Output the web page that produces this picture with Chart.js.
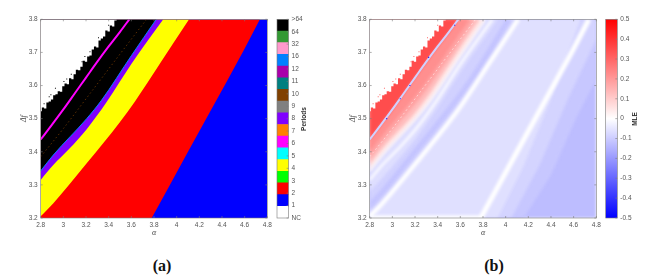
<!DOCTYPE html>
<html lang="en">

<head>
    <meta charset="UTF-8">
    <title>Periods and MLE</title>
    <script src="https://cdn.jsdelivr.net/npm/chart.js"></script>
    <style>
        html, body { margin: 0; padding: 0; background: #fff; overflow: hidden; }
        body { width: 647px; height: 279px; position: relative; font-family: "Liberation Sans", sans-serif; }
        canvas { position: absolute; top: 0; filter: blur(0.4px); }
        .caption { position: absolute; top: 257px; width: 60px; text-align: center; font: bold 16px "Liberation Serif", serif; color: #111; }
        .barTitle { position: absolute; top: 115px; width: 40px; height: 8px; line-height: 8px; text-align: center; font: bold 6.5px "Liberation Sans", sans-serif; color: #333; transform: rotate(-90deg); }
    </style>
</head>

<body>
    <canvas id="mapPeriods" width="320" height="245" style="left:0"></canvas>
    <canvas id="barPeriods" width="50" height="245" style="left:270px"></canvas>
    <canvas id="mapMle" width="320" height="245" style="left:329px"></canvas>
    <canvas id="barMle" width="47" height="245" style="left:600px"></canvas>
    <div class="barTitle" style="left:284px">Periods</div>
    <div class="barTitle" style="left:615px">MLE</div>
    <div class="caption" style="left:132px">(a)</div>
    <div class="caption" style="left:464px">(b)</div>

    <script>
        // axis ticks
        const alphaTicks = [2.8, 3, 3.2, 3.4, 3.6, 3.8, 4, 4.2, 4.4, 4.6, 4.8];
        const deltaTicks = [3.2, 3.3, 3.4, 3.5, 3.6, 3.7, 3.8];
        const periodLabels = ['NC', '1', '2', '3', '4', '5', '6', '7', '8', '9', '10', '11', '12', '16', '32', '64', '>64'];
        const periodColors = ['#ffffff', '#0000ff', '#ff0000', '#00ff00', '#ffff00', '#00ffff', '#ff00ff', '#ff8000', '#8000ff', '#808080', '#804000', '#008080', '#aa00aa', '#0080ff', '#ff99cc', '#339933', '#000000'];
        const mleTicks = [-0.5, -0.4, -0.3, -0.2, -0.1, 0, 0.1, 0.2, 0.3, 0.4, 0.5];
        const mleRange = [-0.5, 0.5];

        // limites entre as regioes
        const floorAlpha = [2.8, 4.8];
        const floorDelta = [3.2, 3.2];
        const edge12Alpha = [2.8, 3.78, 3.94, 4.10, 4.28, 4.435, 4.59, 4.735];
        const edge12Delta = [3.2, 3.2, 3.3, 3.4, 3.512, 3.608, 3.705, 3.8];
        const edge24Alpha = [2.8, 2.91, 3.206, 3.5, 3.632, 3.85, 4.11];
        const edge24Delta = [3.205, 3.244, 3.365, 3.49, 3.552, 3.665, 3.8];
        const edge48Alpha = [2.8, 2.911, 3.05, 3.206, 3.382, 3.6, 3.882];
        const edge48Delta = [3.315, 3.36, 3.408, 3.468, 3.55, 3.665, 3.8];
        const chaosAlpha = [2.8, 2.911, 3.206, 3.338, 3.6, 3.82];
        const chaosDelta = [3.342, 3.39, 3.5, 3.556, 3.69, 3.8];
        const windowAlpha = [2.8, 2.9, 3.0, 3.1, 3.2, 3.3, 3.4, 3.5, 3.582];
        const windowDelta = [3.437, 3.482, 3.528, 3.576, 3.624, 3.672, 3.718, 3.762, 3.8];
        const dottedAlpha = [2.8, 3.0, 3.2, 3.4, 3.6, 3.735];
        const dottedDelta = [3.385, 3.47, 3.56, 3.65, 3.74, 3.8];
        const outerAlpha = [2.8, 2.82, 2.84, 2.86, 2.88, 2.9, 2.92, 2.94, 2.96, 2.98, 3, 3.02, 3.04, 3.06, 3.08, 3.1, 3.12, 3.14, 3.16, 3.18, 3.2, 3.22, 3.24, 3.26, 3.28, 3.3, 3.32, 3.34, 3.36, 3.38, 3.4, 3.42, 3.44, 3.46, 3.48];
        const outerDelta = [3.522, 3.534, 3.531, 3.549, 3.552, 3.558, 3.571, 3.574, 3.583, 3.581, 3.598, 3.606, 3.604, 3.622, 3.619, 3.634, 3.648, 3.646, 3.657, 3.675, 3.672, 3.688, 3.691, 3.709, 3.718, 3.715, 3.736, 3.742, 3.748, 3.766, 3.763, 3.781, 3.778, 3.796, 3.8];
        const strayAlpha = [2.83, 2.875, 2.93, 3.005, 3.07, 3.165, 3.235, 3.31, 3.4, 2.89, 3.03, 3.19];
        const strayDelta = [3.545, 3.566, 3.592, 3.612, 3.634, 3.672, 3.702, 3.744, 3.782, 3.572, 3.62, 3.688];
        const specksAlpha = [3.155, 3.32, 3.55, 2.95, 3.07];
        const specksDelta = [3.6, 3.685, 3.782, 3.5, 3.56];

        // curvas de nivel do MLE
        const mleOuter1Alpha = [2.8, 4.16, 4.4, 4.62, 4.8];
        const mleOuter1Delta = [3.2, 3.2, 3.33, 3.5, 3.62];
        const mleOuter2Alpha = [2.8, 4.05, 4.3, 4.55, 4.8];
        const mleOuter2Delta = [3.2, 3.2, 3.36, 3.56, 3.74];
        const mleOuter3Alpha = [2.8, 3.93, 4.15, 4.4, 4.66];
        const mleOuter3Delta = [3.2, 3.2, 3.35, 3.56, 3.8];
        const mleDark1Alpha = [2.8, 2.91, 3.206, 3.5, 3.632, 3.85, 4.05];
        const mleDark1Delta = [3.225, 3.265, 3.39, 3.515, 3.575, 3.685, 3.8];
        const mleDark2Alpha = [2.8, 2.91, 3.206, 3.5, 3.632, 3.85, 4.0];
        const mleDark2Delta = [3.25, 3.29, 3.415, 3.54, 3.6, 3.715, 3.8];
        const mleDark3Alpha = [2.8, 2.91, 3.206, 3.382, 3.6, 3.93];
        const mleDark3Delta = [3.28, 3.32, 3.44, 3.525, 3.64, 3.8];
        const mlePink1Alpha = [2.8, 2.911, 3.206, 3.338, 3.6, 3.77];
        const mlePink1Delta = [3.362, 3.41, 3.52, 3.58, 3.715, 3.8];
        const mlePink2Alpha = [2.8, 2.911, 3.206, 3.338, 3.6, 3.72];
        const mlePink2Delta = [3.38, 3.43, 3.545, 3.605, 3.735, 3.8];
        const mlePink3Alpha = [2.8, 2.911, 3.206, 3.338, 3.6, 3.68];
        const mlePink3Delta = [3.4, 3.45, 3.57, 3.63, 3.76, 3.8];

        const tickFont = { family: '"Liberation Sans", sans-serif', size: 6.5 };
        const tickColor = '#555555';

        function pontos(xs, ys) {
            return xs.map(function (x, i) { return { x: x, y: ys[i] }; });
        }

        // cor do MLE igual a barra: azul - branco - vermelho
        function corMle(v) {
            const c = Math.round(255 * (1 - 2 * Math.abs(v)));
            return v < 0 ? `rgb(${c},${c},255)` : `rgb(255,${c},${c})`;
        }

        function regiao(xs, ys, cor) {
            return { data: pontos(xs, ys), borderWidth: 0, borderColor: cor, backgroundColor: cor, fill: 'end', pointRadius: 0, cubicInterpolationMode: 'monotone' };
        }

        // curvas que saem retas do eixo de baixo nao podem ser monotone
        function regiaoReta(xs, ys, cor) {
            return Object.assign(regiao(xs, ys, cor), { cubicInterpolationMode: 'default' });
        }

        function linha(xs, ys, cor, largura, tracejado) {
            return { data: pontos(xs, ys), borderWidth: largura, borderColor: cor, fill: false, pointRadius: 0, borderDash: tracejado || [], cubicInterpolationMode: 'monotone' };
        }

        function manchas(xs, ys, cor, raio) {
            return { data: pontos(xs, ys), showLine: false, pointStyle: 'rect', pointRadius: raio, pointBackgroundColor: cor, pointBorderWidth: 0, fill: false };
        }

        function serrilhado(cor) {
            return Object.assign(regiaoReta(outerAlpha, outerDelta, cor), { stepped: 'middle' });
        }

        const molduraPlugin = {
            id: 'moldura',
            afterDatasetsDraw(chart) {
                const area = chart.chartArea;
                const ctx = chart.ctx;
                const mapa = chart.config.type === 'line';
                ctx.save();
                ctx.filter = 'none';
                ctx.strokeStyle = '#7a7a7a';
                ctx.lineWidth = 0.6;
                ctx.strokeRect(area.left, area.top, area.right - area.left, area.bottom - area.top);
                ctx.beginPath();
                chart.scales.y.ticks.forEach(function (t) {
                    const py = chart.scales.y.getPixelForValue(t.value);
                    ctx.moveTo(area.right, py);
                    ctx.lineTo(area.right - 2, py);
                    if (mapa) {
                        ctx.moveTo(area.left, py);
                        ctx.lineTo(area.left + 2, py);
                    }
                });
                if (mapa) {
                    chart.scales.x.ticks.forEach(function (t) {
                        const px = chart.scales.x.getPixelForValue(t.value);
                        ctx.moveTo(px, area.top);
                        ctx.lineTo(px, area.top + 2);
                        ctx.moveTo(px, area.bottom);
                        ctx.lineTo(px, area.bottom - 2);
                    });
                }
                ctx.stroke();
                ctx.restore();
            }
        };

        // suaviza as faixas do MLE, ate a camada marcada com fimSuave
        const suavePlugin = {
            id: 'suave',
            beforeDatasetsDraw(chart) {
                if (chart.canvas.id === 'mapMle') chart.ctx.filter = 'blur(1.5px)';
            },
            afterDatasetDraw(chart, args) {
                if (chart.data.datasets[args.index].fimSuave) chart.ctx.filter = 'none';
            }
        };

        function criarMapa(id, camadas) {
            // a ultima camada fica por cima
            camadas.forEach(function (d, i) { d.order = camadas.length - i; });
            return new Chart(document.getElementById(id), {
                type: 'line',
                data: { datasets: camadas },
                plugins: [suavePlugin, molduraPlugin],
                options: {
                    responsive: false,
                    animation: false,
                    layout: { padding: { top: 19.3, right: 52.7, left: 0, bottom: 0 } },
                    plugins: { legend: { display: false }, tooltip: { enabled: false } },
                    elements: { line: { tension: 0 } },
                    scales: {
                        x: {
                            type: 'linear',
                            min: 2.8,
                            max: 4.8,
                            grid: { display: false, drawTicks: false },
                            border: { display: false },
                            afterBuildTicks(axis) { axis.ticks = alphaTicks.map(function (v) { return { value: v }; }); },
                            afterFit(axis) { axis.height = 27; },
                            ticks: { font: tickFont, color: tickColor, padding: 3, maxRotation: 0, autoSkip: false, callback: function (v) { return String(v); } },
                            title: { display: true, text: 'α', color: '#444', padding: { top: 0, bottom: 7 }, font: { family: '"Liberation Serif", serif', style: 'italic', size: 8 } }
                        },
                        y: {
                            type: 'linear',
                            min: 3.2,
                            max: 3.8,
                            grid: { display: false, drawTicks: false },
                            border: { display: false },
                            afterBuildTicks(axis) { axis.ticks = deltaTicks.map(function (v) { return { value: v }; }); },
                            afterFit(axis) { axis.width = 40.7; },
                            ticks: { font: tickFont, color: tickColor, padding: 3, autoSkip: false, callback: function (v) { return v.toFixed(1); } },
                            title: { display: true, text: 'Δf', color: '#444', padding: { top: 19, bottom: 0 }, font: { family: '"Liberation Serif", serif', style: 'italic', size: 8 } }
                        }
                    }
                }
            });
        }

        function criarBarraPeriodos() {
            const largura = periodLabels.length;
            const datasets = periodColors.map(function (cor) {
                return { data: [1], backgroundColor: cor, stack: 'p', barPercentage: 1, categoryPercentage: 1 };
            });
            return new Chart(document.getElementById('barPeriods'), {
                type: 'bar',
                data: { labels: [''], datasets: datasets },
                plugins: [molduraPlugin],
                options: {
                    responsive: false,
                    animation: false,
                    layout: { padding: { top: 19.3, left: 7, right: 0, bottom: 27 } },
                    plugins: { legend: { display: false }, tooltip: { enabled: false } },
                    scales: {
                        x: { display: false, stacked: true },
                        y: {
                            position: 'right',
                            stacked: true,
                            min: 0,
                            max: largura,
                            grid: { display: false, drawTicks: false },
                            border: { display: false },
                            // os rotulos vao de ponta a ponta da barra
                            afterBuildTicks(axis) {
                                axis.ticks = periodLabels.map(function (nome, i) { return { value: i * largura / (largura - 1) }; });
                            },
                            afterTickToLabelConversion(axis) {
                                axis.ticks.forEach(function (t, i) { t.label = periodLabels[i]; });
                            },
                            afterFit(axis) { axis.width = 31.4; },
                            ticks: { font: tickFont, color: tickColor, padding: 3, autoSkip: false }
                        }
                    }
                }
            });
        }

        function criarBarraMle() {
            return new Chart(document.getElementById('barMle'), {
                type: 'bar',
                data: {
                    labels: [''],
                    datasets: [{
                        data: [mleRange],
                        barPercentage: 1,
                        categoryPercentage: 1,
                        backgroundColor: function (context) {
                            const area = context.chart.chartArea;
                            if (!area) return '#ffffff';
                            const g = context.chart.ctx.createLinearGradient(0, area.bottom, 0, area.top);
                            g.addColorStop(0, corMle(mleRange[0]));
                            g.addColorStop(0.5, '#ffffff');
                            g.addColorStop(1, corMle(mleRange[1]));
                            return g;
                        }
                    }]
                },
                plugins: [molduraPlugin],
                options: {
                    responsive: false,
                    animation: false,
                    layout: { padding: { top: 19.3, left: 5.7, right: 0, bottom: 27 } },
                    plugins: { legend: { display: false }, tooltip: { enabled: false } },
                    scales: {
                        x: { display: false },
                        y: {
                            position: 'right',
                            min: -0.5,
                            max: 0.5,
                            grid: { display: false, drawTicks: false },
                            border: { display: false },
                            afterBuildTicks(axis) { axis.ticks = mleTicks.map(function (v) { return { value: v }; }); },
                            afterFit(axis) { axis.width = 29.7; },
                            ticks: { font: tickFont, color: tickColor, padding: 3, autoSkip: false, callback: function (v) { return String(v); } }
                        }
                    }
                }
            });
        }

        criarMapa('mapPeriods', [
            regiao(floorAlpha, floorDelta, periodColors[1]),
            regiaoReta(edge12Alpha, edge12Delta, periodColors[2]),
            regiao(edge24Alpha, edge24Delta, periodColors[4]),
            regiao(edge48Alpha, edge48Delta, periodColors[8]),
            regiao(chaosAlpha, chaosDelta, periodColors[16]),
            linha(chaosAlpha, chaosDelta, periodColors[13], 1),
            linha(dottedAlpha, dottedDelta, periodColors[10], 0.7, [1.5, 2.5]),
            linha(windowAlpha, windowDelta, periodColors[6], 2),
            serrilhado('#ffffff'),
            manchas(strayAlpha, strayDelta, '#000000', 0.7)
        ]);

        criarMapa('mapMle', [
            regiao(floorAlpha, floorDelta, corMle(-0.13)),
            regiaoReta(mleOuter1Alpha, mleOuter1Delta, corMle(-0.11)),
            regiaoReta(mleOuter2Alpha, mleOuter2Delta, corMle(-0.085)),
            regiaoReta(mleOuter3Alpha, mleOuter3Delta, corMle(-0.06)),
            regiao(edge24Alpha, edge24Delta, corMle(-0.09)),
            regiao(mleDark1Alpha, mleDark1Delta, corMle(-0.115)),
            regiao(mleDark2Alpha, mleDark2Delta, corMle(-0.09)),
            regiao(mleDark3Alpha, mleDark3Delta, corMle(-0.065)),
            regiao(chaosAlpha, chaosDelta, corMle(0.05)),
            regiao(mlePink1Alpha, mlePink1Delta, corMle(0.13)),
            regiao(mlePink2Alpha, mlePink2Delta, corMle(0.18)),
            regiao(mlePink3Alpha, mlePink3Delta, corMle(0.22)),
            regiao(windowAlpha, windowDelta, corMle(0.35)),
            Object.assign(linha(edge12Alpha, edge12Delta, '#ffffff', 5), { cubicInterpolationMode: 'default' }),
            linha(edge24Alpha, edge24Delta, '#ffffff', 4.5),
            linha(edge48Alpha, edge48Delta, '#ffffff', 2.2),
            Object.assign(linha(chaosAlpha, chaosDelta, '#ffffff', 1.4), { fimSuave: true }),
            linha(dottedAlpha, dottedDelta, 'rgba(255,235,235,0.9)', 0.7, [2, 2.5]),
            linha(windowAlpha, windowDelta, corMle(-0.09), 2),
            manchas(specksAlpha, specksDelta, corMle(-0.42), 0.8),
            serrilhado('#ffffff'),
            manchas(strayAlpha, strayDelta, corMle(0.3), 0.7)
        ]);

        criarBarraPeriodos();
        criarBarraMle();
    </script>
</body>

</html>
